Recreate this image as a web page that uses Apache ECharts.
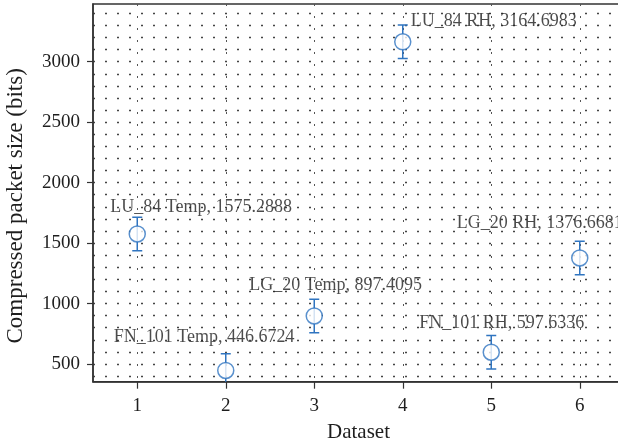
<!DOCTYPE html>
<html>
<head>
<meta charset="utf-8">
<script src="https://cdn.jsdelivr.net/npm/echarts@6/dist/echarts.min.js"></script>
<style>html,body{margin:0;padding:0;background:#fff}#c{width:618px;height:447px}</style>
</head>
<body>
<div id="c"></div>
<script>
const datasets = [1, 2, 3, 4, 5, 6];
const names = ['LU_84 Temp', 'FN_101 Temp', 'LG_20 Temp', 'LU_84 RH', 'FN_101 RH', 'LG_20 RH'];
const values = [1575.2888, 446.6724, 897.4095, 3164.6983, 597.6336, 1376.6681];
const errors = [138, 138, 138, 138, 138, 138];
const yTickLabels = [500, 1000, 1500, 2000, 2500, 3000];
const yGridValues = [400, 500, 600, 700, 800, 900, 1000, 1100, 1200, 1300, 1400, 1500, 1600, 1700, 1800, 1900, 2000, 2100, 2200, 2300, 2400, 2500, 2600, 2700, 2800, 2900, 3000, 3100, 3200, 3300, 3400];
const xTickLabels = [1, 2, 3, 4, 5, 6];

const labelOffsets = [[-27, -27], [-112, -33], [-65, -31], [8, -20], [-72, -29], [-123, -35]];
const FONT = '"Liberation Serif", "DejaVu Serif", serif';
const BLUE = '#2f74c0';
const AX = '#333';
const TXT = '#1e1e1e';

const chart = echarts.init(document.getElementById('c'), null, {renderer: 'canvas'});
const scatterData = datasets.map((x, i) => ({
  value: [x, values[i]],
  label: {offset: labelOffsets[i]}
}));
const errData = datasets.map((x, i) => [x, values[i] - errors[i], values[i] + errors[i]]);

chart.setOption({
  animation: false,
  backgroundColor: '#fff',
  grid: {left: 93, top: 4, width: 531, bottom: 65.3, outerBoundsMode: 'none', containLabel: false,
    show: true, borderColor: AX, borderWidth: 1.5, backgroundColor: 'transparent'},
  xAxis: [{
    type: 'value', min: 0.5, max: 6.5,
    name: 'Dataset', nameLocation: 'middle', nameGap: 40,
    nameTextStyle: {fontFamily: FONT, fontSize: 21, color: TXT},
    axisLine: {show: true, lineStyle: {color: AX, width: 1.5}},
    axisTick: {show: true, inside: false, length: 7, customValues: xTickLabels, lineStyle: {color: AX, width: 1.2}},
    axisLabel: {customValues: xTickLabels, margin: 15, fontFamily: FONT, fontSize: 19, color: TXT},
    splitLine: {show: true, lineStyle: {color: '#555', type: [2, 10], width: 1}}
  }],
  yAxis: [{
    type: 'value', min: 353.6, max: 3477,
    name: 'Compressed packet size (bits)', nameLocation: 'middle', nameGap: 66,
    nameTextStyle: {fontFamily: FONT, fontSize: 23, color: TXT, padding: [0, 26, 0, 0]},
    axisLine: {show: true, lineStyle: {color: AX, width: 1.5}},
    axisTick: {show: true, inside: false, length: 6, customValues: yTickLabels, lineStyle: {color: AX, width: 1.2}},
    axisLabel: {customValues: yTickLabels, margin: 13, fontFamily: FONT, fontSize: 19, color: TXT,
      formatter: function (v) { return String(v); }},
    splitLine: {show: false}
  }, {
    type: 'value', min: 353.6, max: 3477, position: 'left',
    axisLine: {show: false},
    axisTick: {show: false, customValues: yGridValues},
    axisLabel: {show: false},
    splitLine: {show: true, lineStyle: {color: '#444', type: [2, 10], width: 1.4}}
  }],
  series: [{
    type: 'custom',
    xAxisIndex: 0, yAxisIndex: 0,
    clip: true,
    data: errData,
    renderItem: function (params, api) {
      const x = api.value(0);
      const lo = api.coord([x, api.value(1)]);
      const hi = api.coord([x, api.value(2)]);
      const hw = 5;
      const style = {stroke: BLUE, lineWidth: 1.5, fill: null};
      return {type: 'group', children: [
        {type: 'line', shape: {x1: lo[0], y1: lo[1], x2: hi[0], y2: hi[1]}, style: style},
        {type: 'line', shape: {x1: lo[0] - hw, y1: lo[1], x2: lo[0] + hw, y2: lo[1]}, style: style},
        {type: 'line', shape: {x1: hi[0] - hw, y1: hi[1], x2: hi[0] + hw, y2: hi[1]}, style: style}
      ]};
    },
    z: 3
  }, {
    type: 'scatter',
    xAxisIndex: 0, yAxisIndex: 0,
    symbol: 'circle', symbolSize: 16,
    itemStyle: {color: '#fff', borderColor: BLUE, borderWidth: 1.5},
    data: scatterData,
    label: {
      show: true, position: 'inside', align: 'left', verticalAlign: 'middle',
      fontFamily: FONT, fontSize: 18, color: TXT,
      formatter: function (p) { return names[p.dataIndex] + ', ' + values[p.dataIndex].toFixed(4); }
    },
    z: 4
  }]
});
</script>
</body>
</html>
